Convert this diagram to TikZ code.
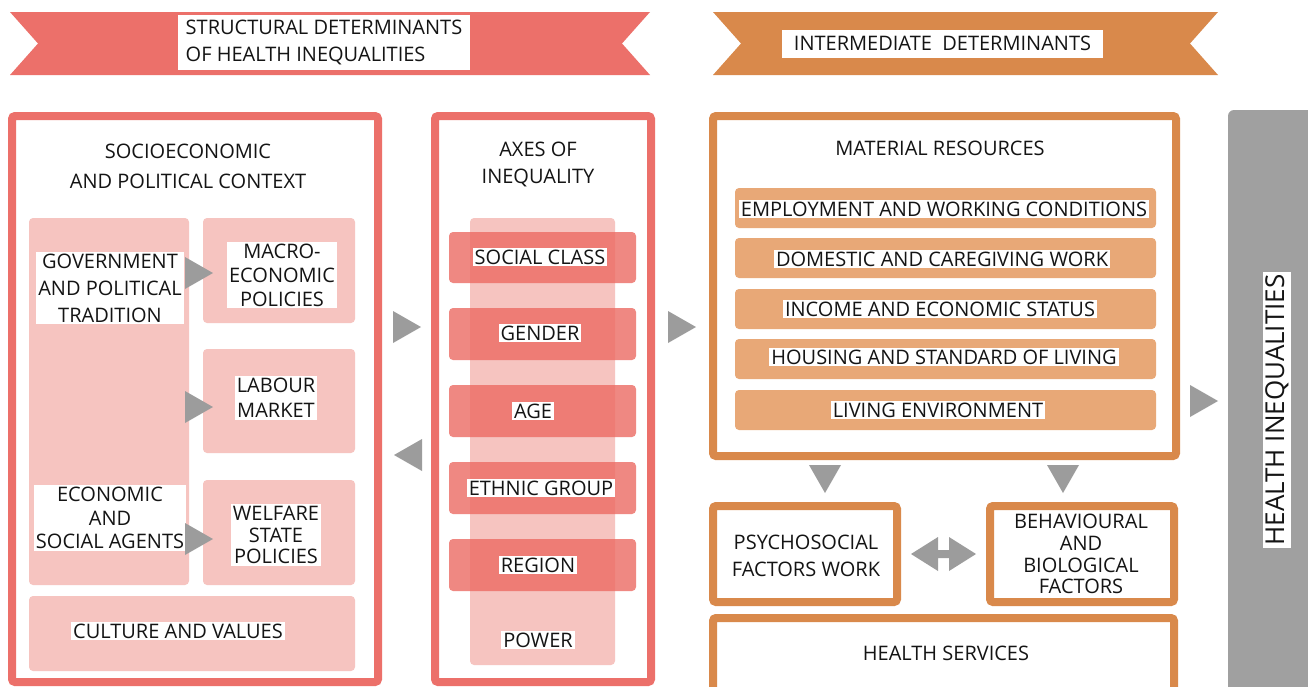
\documentclass[tikz,border=0pt]{standalone}
\usepackage{fontspec}
\setmainfont{Open Sans}
\definecolor{redA}{HTML}{EC706A}
\definecolor{orgA}{HTML}{D9894B}
\definecolor{pinkA}{HTML}{F6C4C0}
\definecolor{barA}{HTML}{EC6B63}
\definecolor{rowA}{HTML}{E8A877}
\definecolor{gryA}{HTML}{9C9C9C}
\definecolor{barG}{HTML}{A0A0A0}
\definecolor{inkA}{HTML}{141414}
\begin{document}
\begin{tikzpicture}[x=1pt,y=-1pt,
  lbl/.style={fill=white, inner sep=2pt, text=inkA, align=center, font=\fontsize{20}{24}\selectfont},
  ttl/.style={inner sep=0pt, text=inkA, align=center, font=\fontsize{20}{24}\selectfont},
  redbox/.style={draw=redA, line width=8pt, rounded corners=3pt},
  orgbox/.style={draw=orgA, line width=8pt, rounded corners=3pt},
  pinkblk/.style={fill=pinkA, rounded corners=4pt},
  axbar/.style={fill=barA, fill opacity=0.8, rounded corners=4pt},
  orow/.style={fill=rowA, rounded corners=4pt},
  rarrow/.pic={\fill[gryA] (-14,-16) -- (14,0) -- (-14,16) -- cycle;}
]
\useasboundingbox (0,0) rectangle (1308,686);
\clip (0,0) rectangle (1308,686);
\fill[white] (0,0) rectangle (1308,686);

% ---------- banners ----------
\fill[redA] (10,12) -- (650,12) -- (622,43.5) -- (650,75) -- (10,75) -- (38,43.5) -- cycle;
\node[lbl, align=left, inner sep=0pt, minimum width=292pt, minimum height=55pt, font=\fontsize{20}{27}\selectfont] (bannerA) at (324,42.5) {STRUCTURAL DETERMINANTS\\OF HEALTH INEQUALITIES};
\fill[orgA] (713,12) -- (1218,12) -- (1190,43.5) -- (1218,75) -- (713,75) -- (741,43.5) -- cycle;
\node[lbl, inner sep=0pt, minimum width=321pt, minimum height=28pt] (bannerB) at (942.5,43.5) {INTERMEDIATE\ \ DETERMINANTS};

% ---------- box 1 : socioeconomic context ----------
\draw[redbox] (12,116) rectangle (378,682);
\node[ttl, font=\fontsize{20}{30}\selectfont] (ctx) at (188,166) {SOCIOECONOMIC\\AND POLITICAL CONTEXT};
\fill[pinkblk] (29,218) rectangle (189,585);
\fill[pinkblk] (203,218) rectangle (355,323);
\fill[pinkblk] (203,349) rectangle (355,453);
\fill[pinkblk] (203,480) rectangle (355,585);
\fill[pinkblk] (29,596) rectangle (355,671);
\node[lbl, font=\fontsize{20}{27}\selectfont] (gov) at (110,288) {GOVERNMENT\\AND POLITICAL\\TRADITION};
\node[lbl] (macro) at (282,275) {MACRO-\\ECONOMIC\\POLICIES};
\node[lbl, font=\fontsize{20}{25}\selectfont] (labour) at (276,398) {LABOUR\\MARKET};
\node[lbl, font=\fontsize{20}{23.5}\selectfont] (econ) at (110,518) {ECONOMIC\\AND\\SOCIAL AGENTS};
\node[lbl, font=\fontsize{20}{21.5}\selectfont] (welfare) at (276,535) {WELFARE\\STATE\\POLICIES};
\node[lbl] (culture) at (178,631) {CULTURE AND VALUES};
\pic at (199,273) {rarrow};
\pic at (199,407) {rarrow};
\pic at (199,539) {rarrow};

% arrows between box 1 and box 2
\pic at (407,327) {rarrow};
\pic[rotate=180] at (408,455) {rarrow};

% ---------- box 2 : axes of inequality ----------
\draw[redbox] (435,116) rectangle (651,682);
\node[ttl, font=\fontsize{20}{27}\selectfont] (axes) at (538,164) {AXES OF\\INEQUALITY};
\fill[pinkblk] (470,218) rectangle (615,665);
\fill[axbar] (449,232) rectangle (636,283);
\fill[axbar] (449,308) rectangle (636,360);
\fill[axbar] (449,385) rectangle (636,437);
\fill[axbar] (449,462) rectangle (636,514);
\fill[axbar] (449,539) rectangle (636,591);
\node[lbl] (social) at (540,257) {SOCIAL CLASS};
\node[lbl] (gender) at (540,333) {GENDER};
\node[lbl] (age) at (533,411) {AGE};
\node[lbl] (ethnic) at (541,488) {ETHNIC GROUP};
\node[lbl] (region) at (538,565) {REGION};
\node[lbl] (power) at (538,640) {POWER};

\pic at (682,327) {rarrow};

% ---------- box 3 : material resources ----------
\draw[orgbox] (713,116) rectangle (1176,456);
\node[ttl] (mat) at (940,148) {MATERIAL RESOURCES};
\fill[orow] (735,188) rectangle (1156,228);
\fill[orow] (735,238) rectangle (1156,278);
\fill[orow] (735,289) rectangle (1156,329);
\fill[orow] (735,339) rectangle (1156,379);
\fill[orow] (735,390) rectangle (1156,430);
\node[lbl] (employ) at (944,209) {EMPLOYMENT AND WORKING CONDITIONS};
\node[lbl] (domestic) at (942,259) {DOMESTIC AND CAREGIVING\ WORK};
\node[lbl] (income) at (940,309) {INCOME AND ECONOMIC STATUS};
\node[lbl] (housing) at (944,357) {HOUSING AND STANDARD OF LIVING};
\node[lbl] (living) at (938,410) {LIVING ENVIRONMENT};

\pic[rotate=-90] at (825,479) {rarrow};
\pic[rotate=-90] at (1063,479) {rarrow};

% ---------- lower boxes ----------
\draw[orgbox] (713,506) rectangle (897,602);
\node[ttl, font=\fontsize{20}{27}\selectfont] (psy) at (806,556) {PSYCHOSOCIAL\\FACTORS WORK};
\draw[orgbox] (990,506) rectangle (1174,602);
\node[ttl, font=\fontsize{20}{21.7}\selectfont] (beh) at (1081,554) {BEHAVIOURAL\\AND\\BIOLOGICAL\\FACTORS};
\fill[gryA] (911,554) -- (938,537) -- (938,550) -- (949,550) -- (949,537) -- (976,554) -- (949,571) -- (949,558) -- (938,558) -- (938,571) -- cycle;
\draw[orgbox] (713,618) rectangle (1174,700);
\node[ttl] (hs) at (946,653) {HEALTH SERVICES};

% ---------- health inequalities ----------
\pic at (1204,401) {rarrow};
\fill[barG, rounded corners=6pt] (1228,110) rectangle (1330,720);
\node[lbl, rotate=90, font=\fontsize{26}{30}\selectfont, inner sep=2pt] (hi) at (1277,410) {HEALTH INEQUALITIES};
\end{tikzpicture}
\end{document}
